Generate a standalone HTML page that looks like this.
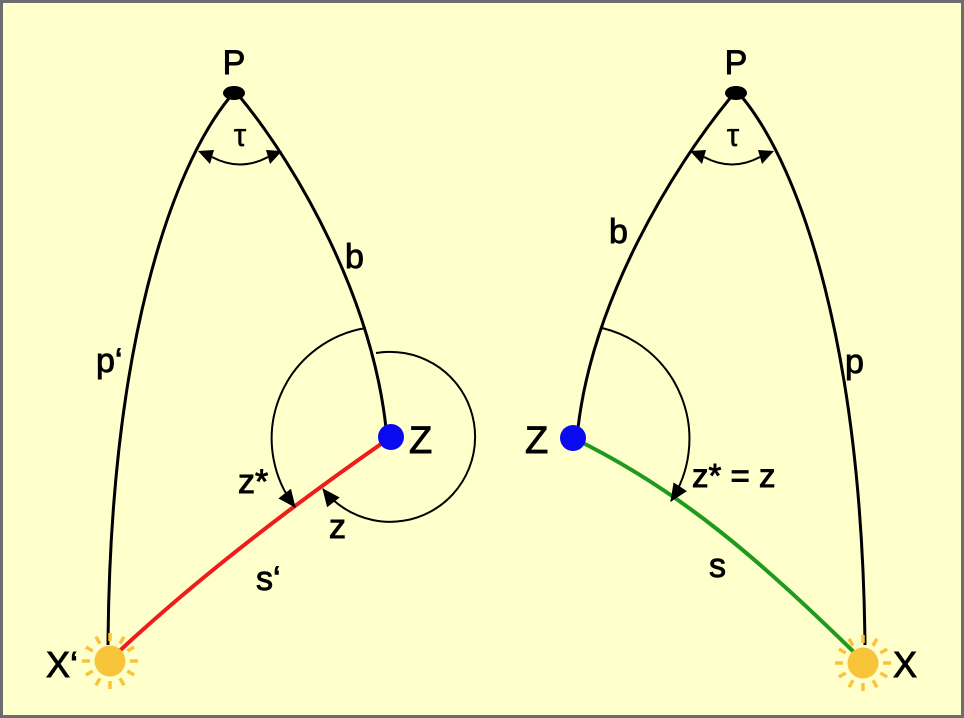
<!DOCTYPE html>
<html><head><style>
html,body{margin:0;padding:0;background:#fff}
svg{display:block}
text{font-family:"Liberation Sans",sans-serif;fill:#000;stroke:#000;stroke-width:0.9}
</style></head><body>
<svg width="964" height="718" viewBox="0 0 964 718" xmlns="http://www.w3.org/2000/svg">
<defs>
<marker id="ab" markerWidth="18" markerHeight="16" refX="17" refY="8" orient="auto" markerUnits="userSpaceOnUse" viewBox="0 0 18 16">
<path d="M0,0 L18,8 L0,16 z" fill="#000"/>
</marker>
<g id="sun">
<circle r="15.5" fill="#f8c53a"/>
<g stroke="#f8c53a" stroke-width="3.5">
<line x1="0" y1="-20" x2="0" y2="-28"/><line x1="0" y1="20" x2="0" y2="28"/>
<line x1="-20" y1="0" x2="-28" y2="0"/><line x1="20" y1="0" x2="28" y2="0"/>
<line x1="10" y1="-17.3" x2="14" y2="-24.2"/><line x1="-10" y1="-17.3" x2="-14" y2="-24.2"/>
<line x1="10" y1="17.3" x2="14" y2="24.2"/><line x1="-10" y1="17.3" x2="-14" y2="24.2"/>
<line x1="17.3" y1="-10" x2="24.2" y2="-14"/><line x1="-17.3" y1="-10" x2="-24.2" y2="-14"/>
<line x1="17.3" y1="10" x2="24.2" y2="14"/><line x1="-17.3" y1="10" x2="-24.2" y2="14"/>
</g>
</g>
</defs>
<rect x="1.5" y="1.5" width="961" height="715" fill="#ffffcc" stroke="#6d6d6d" stroke-width="3"/>

<!-- LEFT -->
<path d="M230,97 C170,170 110,350 108,645" fill="none" stroke="#000" stroke-width="3"/>
<path d="M240,97 C300,170 372,300 386,428" fill="none" stroke="#000" stroke-width="3"/>
<path d="M391,437 C300,500 200,575 112,658" fill="none" stroke="#ee1c1c" stroke-width="4"/>
<ellipse cx="234" cy="93" rx="11" ry="7" fill="#000"/>
<circle cx="391" cy="437" r="13" fill="#0a0af0"/>
<use href="#sun" x="110" y="661"/>
<path d="M212,157 Q240,172 268,157" fill="none" stroke="#000" stroke-width="2"/>
<path d="M198,151 L214,150 L210,164 z" fill="#000"/>
<path d="M282,151 L266,150 L270,164 z" fill="#000"/>
<path d="M366,328 A112,112 0 0 0 295,507" fill="none" stroke="#000" stroke-width="2" marker-end="url(#ab)"/>
<path d="M376,353 A85,85 0 1 1 323,489" fill="none" stroke="#000" stroke-width="2" marker-end="url(#ab)"/>

<text x="234" y="74" font-size="34" text-anchor="middle">P</text>
<text x="240" y="146" font-size="32" text-anchor="middle" font-family="Liberation Serif" style="stroke-width:0.3">τ</text>
<text x="345" y="268" font-size="34">b</text>
<text x="96" y="372" font-size="34">p‘</text>
<text x="409" y="453" font-size="38">Z</text>
<text x="238" y="493" font-size="34">z*</text>
<text x="329" y="538" font-size="34">z</text>
<text x="256" y="590" font-size="34">s‘</text>
<text x="46" y="677" font-size="36">X‘</text>

<!-- RIGHT -->
<path d="M731,97 C671,170 593,300 578,428" fill="none" stroke="#000" stroke-width="3"/>
<path d="M742,97 C802,170 862,350 865,645" fill="none" stroke="#000" stroke-width="3"/>
<path d="M573,438 C680,490 760,560 862,660" fill="none" stroke="#1f9a1f" stroke-width="4"/>
<ellipse cx="736" cy="93" rx="11" ry="7" fill="#000"/>
<circle cx="573" cy="438" r="13" fill="#0a0af0"/>
<use href="#sun" x="863" y="663"/>
<path d="M704,157 Q732,172 760,157" fill="none" stroke="#000" stroke-width="2"/>
<path d="M690,151 L706,150 L702,164 z" fill="#000"/>
<path d="M774,151 L758,150 L762,164 z" fill="#000"/>
<path d="M602,328 A114,114 0 0 1 671,501" fill="none" stroke="#000" stroke-width="2" marker-end="url(#ab)"/>

<text x="736" y="74" font-size="34" text-anchor="middle">P</text>
<text x="733" y="146" font-size="32" text-anchor="middle" font-family="Liberation Serif" style="stroke-width:0.3">τ</text>
<text x="609" y="243" font-size="34">b</text>
<text x="845" y="373" font-size="34">p</text>
<text x="525" y="453" font-size="38">Z</text>
<text x="692" y="487" font-size="33">z* = z</text>
<text x="709" y="577" font-size="34">s</text>
<text x="893" y="677" font-size="36">X</text>
</svg>
</body></html>
